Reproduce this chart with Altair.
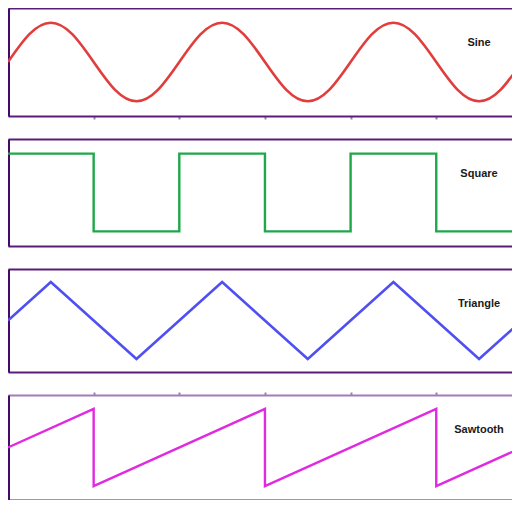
import altair as alt
import pandas as pd

# ---- data (x in periods, y in normalised amplitude) ----
sine_x = [0, 0.125, 0.25, 0.375, 0.5, 0.625, 0.75, 0.875, 1.0, 1.125, 1.25, 1.375, 1.5,
          1.625, 1.75, 1.875, 2.0, 2.125, 2.25, 2.375, 2.5, 2.625, 2.75, 2.875, 3.0]
sine_y = [0, 0.71, 1, 0.71, 0, -0.71, -1, -0.71, 0, 0.71, 1, 0.71, 0,
          -0.71, -1, -0.71, 0, 0.71, 1, 0.71, 0, -0.71, -1, -0.71, 0]

square_x = [0, 0.5, 0.5, 1, 1, 1.5, 1.5, 2, 2, 2.5, 2.5, 3]
square_y = [1, 1, -1, -1, 1, 1, -1, -1, 1, 1, -1, -1]

triangle_x = [0, 0.25, 0.75, 1.25, 1.75, 2.25, 2.75, 3]
triangle_y = [0, 1, -1, 1, -1, 1, -1, 0]

saw_x = [0, 0.5, 0.5, 1.5, 1.5, 2.5, 2.5, 3]
saw_y = [0, 1, -1, 1, -1, 1, -1, 0]

labels = ["Sine", "Square", "Triangle", "Sawtooth"]
tick_vals = [0.5, 1, 1.5, 2, 2.5]

W = 504
XMAX = 504 / 171.3  # one period is ~171 px in the reference

FRAME = "#5A1C78"
LEFT = "#46096A"
LIGHT = "#A27CBA"


def x_axis(orient, color, ticks):
    return alt.Axis(
        orient=orient, domain=True, domainColor=color, domainWidth=2,
        grid=False, labels=False, title=None,
        ticks=ticks, values=tick_vals, tickSize=3, tickColor=LIGHT, tickWidth=2,
    )


def panel(xs, ys, color, label, height, amp, stroke_w, interp="linear",
          bottom_ticks=False, top_ticks=False, top_color=FRAME):
    df = pd.DataFrame({"x": xs, "y": ys, "order": list(range(len(xs)))})
    xscale = alt.Scale(domain=[0, XMAX], nice=False, zero=False)
    yscale = alt.Scale(domain=[-amp, amp], nice=False, zero=False)
    line = alt.Chart(df).mark_line(
        color=color, strokeWidth=stroke_w, interpolate=interp, clip=True
    ).encode(
        x=alt.X("x:Q", scale=xscale, axis=x_axis("bottom", FRAME, bottom_ticks)),
        y=alt.Y("y:Q", scale=yscale,
                axis=alt.Axis(domain=True, domainColor=LEFT, domainWidth=3, ticks=False,
                              labels=False, grid=False, title=None)),
        order="order:Q",
    )
    top = alt.Chart(df).mark_line(opacity=0, clip=True).encode(
        x=alt.X("x:Q", scale=xscale, axis=x_axis("top", top_color, top_ticks)),
        y=alt.Y("y:Q", scale=yscale),
    )
    txt = alt.Chart(pd.DataFrame({"t": [label]})).mark_text(
        font="Liberation Sans", fontWeight="bold", fontSize=11, color="#1a1a1a",
        align="center", baseline="middle",
    ).encode(text="t:N", x=alt.value(471), y=alt.value(35))
    return alt.layer(line, top, txt).resolve_axis(x="independent").properties(
        width=W, height=height,
    )


p1 = panel(sine_x, sine_y, "#E23D3D", labels[0], 108, 1.375, 2.6, interp="natural",
           bottom_ticks=True)
p2 = panel(square_x, square_y, "#1FA84A", labels[1], 107, 1.375, 2.4)
p3 = panel(triangle_x, triangle_y, "#4F4FF2", labels[2], 103, 1.34, 2.6)
p4 = panel(saw_x, saw_y, "#E02AE0", labels[3], 105, 1.36, 2.4,
           top_ticks=True, top_color=LIGHT)

chart = alt.vconcat(p1, p2, p3, p4, spacing=23, bounds="flush").properties(
    padding=0
).configure_view(stroke=None)

chart.save("out.html", embed_options={"renderer": "svg", "actions": False})
